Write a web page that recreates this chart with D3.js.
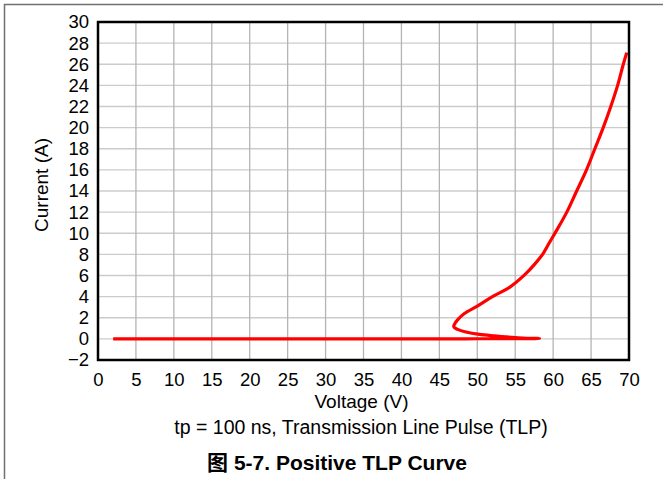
<!DOCTYPE html>
<html>
<head>
	<meta charset="utf-8">
	<title>Positive TLP Curve</title>
	<script src="https://d3js.org/d3.v7.min.js"></script>
	<style>
		body { margin: 0; background: #fff; }
		text { font-family: "Liberation Sans", Arial, "Noto Sans CJK SC", sans-serif; fill: #000; }
		.axis-title { font-size: 19px; }
		.note { font-size: 19.5px; }
		.caption { font-size: 21px; font-weight: bold; }
	</style>
</head>
<body>
	<div id="chart"></div>

	<script>
		var voltage = [2, 10, 20, 30, 40, 45, 50, 55, 58.2,
			56, 54.5, 52.3, 50.3, 48.5, 47.4, 46.9, 47.0, 47.4, 48.3, 50,
			52, 54.3, 56.3, 57.6, 58.7, 59.5, 60.4, 61.8, 63.1, 64.4,
			65.5, 66.6, 67.6, 68.5, 69.25, 69.7];
		var current = [0, 0, 0, 0, 0, 0, 0.01, 0.02, 0.03,
			0.08, 0.15, 0.28, 0.42, 0.65, 0.9, 1.15, 1.4, 1.8, 2.4, 3.1,
			4.0, 4.9, 6.1, 7.1, 8.1, 9.1, 10.2, 12, 14, 16,
			18, 20, 22, 24, 26, 27.1];

		var xTicks = [0, 5, 10, 15, 20, 25, 30, 35, 40, 45, 50, 55, 60, 65, 70];
		var yTicks = [-2, 0, 2, 4, 6, 8, 10, 12, 14, 16, 18, 20, 22, 24, 26, 28, 30];

		var W = 663, H = 479;
		var margin = { top: 22, right: 34, bottom: 119, left: 98 };
		var width = W - margin.left - margin.right,
			height = H - margin.top - margin.bottom;

		var svg = d3.select("#chart").append("svg")
			.attr("width", W)
			.attr("height", H);

		// outer page frame
		svg.append("rect")
			.attr("x", 4.5).attr("y", 4.5)
			.attr("width", W + 20).attr("height", H + 20)
			.attr("fill", "none")
			.attr("stroke", "#707070")
			.attr("stroke-width", 1.5);

		var g = svg.append("g")
			.attr("transform", "translate(" + margin.left + "," + margin.top + ")");

		var x = d3.scaleLinear().domain([0, 70]).range([0, width]);
		var y = d3.scaleLinear().domain([-2, 30]).range([height, 0]);

		// grid
		g.append("g").selectAll("line")
			.data(yTicks.slice(1, -1))
			.enter().append("line")
			.attr("x1", 0).attr("x2", width)
			.attr("y1", function (d) { return y(d); })
			.attr("y2", function (d) { return y(d); })
			.attr("stroke", "#cccccc")
			.attr("stroke-width", 1.3);

		g.append("g").selectAll("line")
			.data(xTicks.slice(1, -1))
			.enter().append("line")
			.attr("y1", 0).attr("y2", height)
			.attr("x1", function (d) { return x(d); })
			.attr("x2", function (d) { return x(d); })
			.attr("stroke", "#b4b4b4")
			.attr("stroke-width", 1.3);

		// axes (labels only, no tick marks)
		var xAxis = d3.axisBottom(x).tickValues(xTicks).tickSize(0).tickPadding(13);
		var yAxis = d3.axisLeft(y).tickValues(yTicks).tickSize(0).tickPadding(9);

		var gx = g.append("g")
			.attr("transform", "translate(0," + height + ")")
			.call(xAxis);
		var gy = g.append("g").call(yAxis);

		[gx, gy].forEach(function (a) {
			a.select(".domain").remove();
			a.selectAll("text")
				.attr("fill", "#000")
				.style("font-size", "18.5px")
				.style("font-family", "'Liberation Sans', Arial, sans-serif");
		});

		// curve
		var points = voltage.map(function (v, i) { return [v, current[i]]; });
		var line = d3.line()
			.x(function (d) { return x(d[0]); })
			.y(function (d) { return y(d[1]); })
			.curve(d3.curveCatmullRom.alpha(0.5));

		g.append("path")
			.datum(points)
			.attr("d", line)
			.attr("fill", "none")
			.attr("stroke", "#ff0000")
			.attr("stroke-width", 3.2)
			.attr("stroke-linejoin", "round");

		// plot frame
		g.append("rect")
			.attr("x", 0).attr("y", 0)
			.attr("width", width).attr("height", height)
			.attr("fill", "none")
			.attr("stroke", "#000")
			.attr("stroke-width", 2.5);

		// titles
		g.append("text")
			.attr("class", "axis-title")
			.attr("x", width / 2 - 2)
			.attr("y", height + 48)
			.attr("text-anchor", "middle")
			.text("Voltage (V)");

		g.append("text")
			.attr("class", "axis-title")
			.attr("transform", "translate(-50," + (height / 2 - 6) + ") rotate(-90)")
			.attr("text-anchor", "middle")
			.text("Current (A)");

		svg.append("text")
			.attr("class", "note")
			.attr("x", 361)
			.attr("y", 434)
			.attr("text-anchor", "middle")
			.text("tp = 100 ns, Transmission Line Pulse (TLP)");

		svg.append("text")
			.attr("class", "caption")
			.attr("x", 337)
			.attr("y", 470)
			.attr("text-anchor", "middle")
			.text("图 5-7. Positive TLP Curve");
	</script>
</body>
</html>
